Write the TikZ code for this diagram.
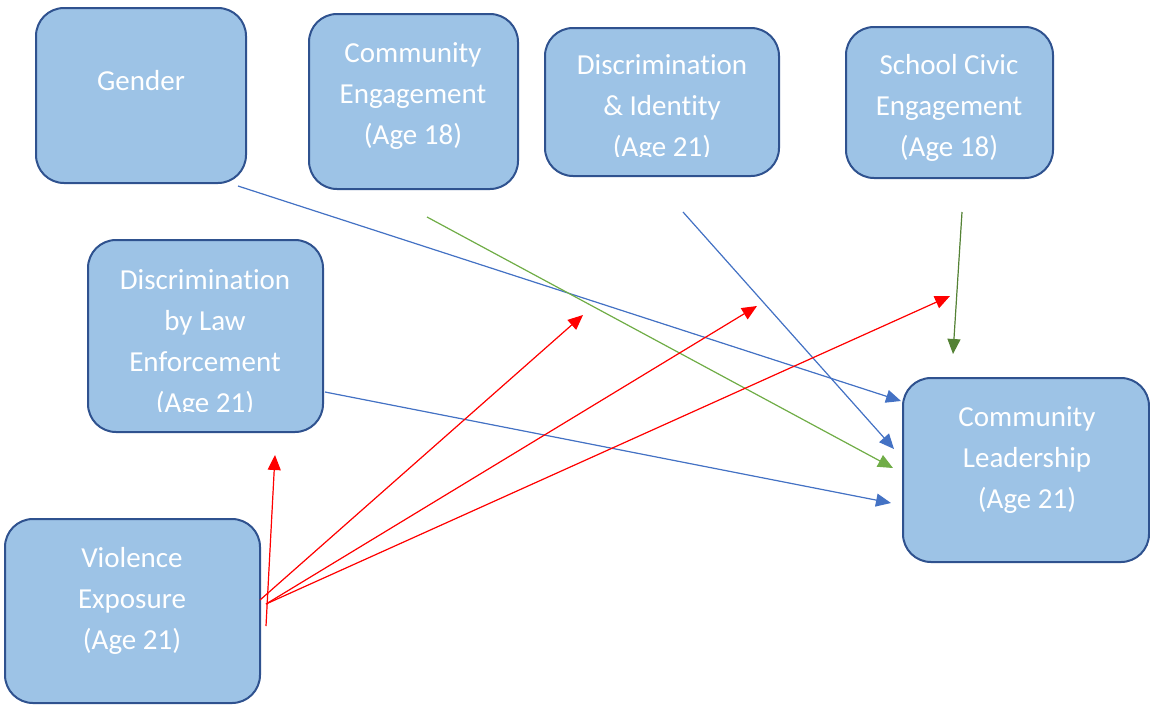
\documentclass[tikz,border=0pt]{standalone}
\usepackage{fontspec}
\setmainfont{Carlito}[Ligatures=NoCommon]
\usetikzlibrary{arrows.meta}
\definecolor{boxfill}{HTML}{9DC3E6}
\definecolor{boxline}{HTML}{2F528F}
\definecolor{arrblue}{HTML}{4472C4}
\definecolor{arrgreen}{HTML}{70AD47}
\definecolor{arrdkgreen}{HTML}{548235}
\definecolor{arrred}{HTML}{FF0000}
\tikzset{
  box/.style={draw=boxline, line width=2pt, fill=boxfill, rounded corners=28pt, inner sep=0pt},
  label/.style={text=white, align=center, inner sep=0pt, font=\fontsize{29}{41}\selectfont},
  conn/.style={line width=1.2pt, -{Triangle[length=15pt,width=13pt]}},
}
\begin{document}
\begin{tikzpicture}[x=1pt,y=-1pt]
\useasboundingbox (0,0) rectangle (1150,705);
% boxes
\node[box, minimum width=210, minimum height=175] (gender) at (141,95.5) {};
\node[box, minimum width=209, minimum height=175] (ce) at (413.5,101.5) {};
\node[box, minimum width=234, minimum height=148] (di) at (662,102) {};
\node[box, minimum width=207, minimum height=151] (sc) at (949.5,102.5) {};
\node[box, minimum width=235, minimum height=192] (dl) at (205.5,336) {};
\node[box, minimum width=255, minimum height=184] (ve) at (132.5,611) {};
\node[box, minimum width=246, minimum height=184] (cl) at (1026,470) {};
% labels
\node[label] (gender-t) at (141,81) {Gender};
\node[label] (ce-t) at (413,96) {Community\\Engagement\\(Age 18)};
\begin{scope}
\clip (545,20) rectangle (780,156.5);
\node[label] (di-t) at (662,108.5) {Discrimination\\\&~Identity\\(Age 21)};
\end{scope}
\node[label] (sc-t) at (949,107.5) {School Civic\\Engagement\\(Age 18)};
\begin{scope}
\clip (88,235) rectangle (324,411.5);
\node[label] (dl-t) at (205,343.5) {Discrimination\\by Law\\Enforcement\\(Age 21)};
\end{scope}
\node[label] (ve-t) at (132,600.5) {Violence\\Exposure\\(Age 21)};
\node[label] (cl-t) at (1027,460.5) {Community\\Leadership\\(Age 21)};
% connector end points
\coordinate (g1) at (238,186);  \coordinate (g2) at (901,401);
\coordinate (c1) at (427,217);  \coordinate (c2) at (893,468);
\coordinate (d1) at (683,212);  \coordinate (d2) at (894,449);
\coordinate (s1) at (962,212);  \coordinate (s2) at (953,354);
\coordinate (l1) at (325,392);  \coordinate (l2) at (891,503);
\coordinate (v1) at (266,626);  \coordinate (v1e) at (275,455);
\coordinate (v2) at (260,600);  \coordinate (v2e) at (583,315);
\coordinate (v3) at (266,604);  \coordinate (v3e) at (757,306);
\coordinate (v4) at (266,604);  \coordinate (v4e) at (950,296);
% connectors
\draw[conn, draw=arrblue, fill=arrblue] (g1) -- (g2);
\draw[conn, draw=arrgreen, fill=arrgreen] (c1) -- (c2);
\draw[conn, draw=arrblue, fill=arrblue] (d1) -- (d2);
\draw[conn, draw=arrdkgreen, fill=arrdkgreen] (s1) -- (s2);
\draw[conn, draw=arrblue, fill=arrblue] (l1) -- (l2);
\draw[conn, draw=arrred, fill=arrred] (v1) -- (v1e);
\draw[conn, draw=arrred, fill=arrred] (v2) -- (v2e);
\draw[conn, draw=arrred, fill=arrred] (v3) -- (v3e);
\draw[conn, draw=arrred, fill=arrred] (v4) -- (v4e);
\end{tikzpicture}
\end{document}
